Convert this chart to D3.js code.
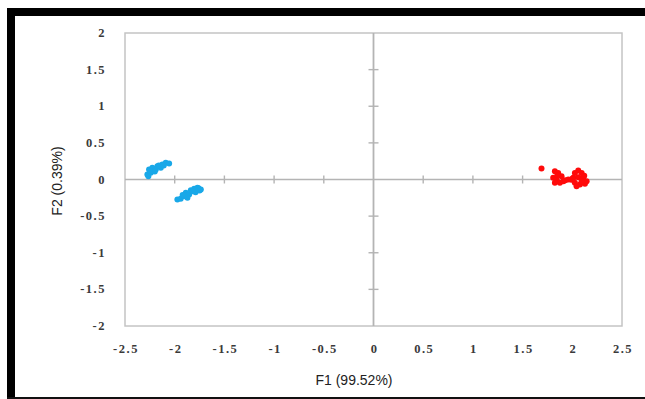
<!DOCTYPE html>
<html><head><meta charset="utf-8">
<script src="https://cdn.jsdelivr.net/npm/d3@7"></script>
<style>html,body{margin:0;padding:0;background:#fff;}svg{display:block;}</style>
</head><body>
<svg id="c" width="645" height="399"></svg>
<script>
const xTicks = [-2.5,-2,-1.5,-1,-0.5,0,0.5,1,1.5,2,2.5];
const yTicks = [-2,-1.5,-1,-0.5,0,0.5,1,1.5,2];
const blueF1 = [-2.275,-2.241,-2.258,-2.225,-2.19,-2.174,-2.14,-2.124,-2.09,-2.056,-2.265,-2.2,-2.16,-2.11,-2.25,
                -1.973,-1.94,-1.905,-1.888,-1.855,-1.838,-1.804,-1.771,-1.737,-1.79,-1.872,-1.82,-1.76,-1.92,-1.75];
const blueF2 = [0.068,0.091,0.137,0.16,0.137,0.18,0.16,0.205,0.228,0.218,0.045,0.11,0.19,0.19,0.115,
                -0.273,-0.264,-0.228,-0.182,-0.205,-0.146,-0.127,-0.113,-0.137,-0.173,-0.25,-0.16,-0.12,-0.21,-0.15];
const redF1 = [1.69,1.825,1.858,1.808,1.842,1.875,1.91,1.825,1.892,1.96,1.99,
               2.06,2.026,2.094,2.01,2.06,2.11,2.026,2.077,2.127,2.144,2.043,2.094,1.85,2.12,1.93,2.0];
const redF2 = [0.15,0.113,0.09,0.023,0,-0.045,-0.023,-0.045,0.045,0,-0.005,
               0.123,0.09,0.09,0.023,0.032,0.023,-0.045,-0.068,-0.059,-0.023,-0.091,-0.023,0.06,0.05,-0.01,0.01];

const svg = d3.select('#c');
const L=125, R=622, T=33, B=326;
const x = d3.scaleLinear().domain([-2.5,2.5]).range([L,R]);
const y = d3.scaleLinear().domain([-2,2]).range([B,T]);

// outer frame
svg.append('rect').attr('x',7).attr('y',8).attr('width',645).attr('height',8).attr('fill','#000');
svg.append('rect').attr('x',7).attr('y',8).attr('width',8).attr('height',391).attr('fill','#000');
svg.append('rect').attr('x',7).attr('y',397).attr('width',645).attr('height',2).attr('fill','#111');

// plot box
svg.append('rect').attr('x',L).attr('y',T).attr('width',R-L).attr('height',B-T)
  .attr('fill','none').attr('stroke','#c4c4c4').attr('stroke-width',1.5);

// zero axes with cross ticks
const ax = svg.append('g').attr('stroke','#b4b4b4');
ax.append('line').attr('x1',L).attr('x2',R).attr('y1',y(0)).attr('y2',y(0)).attr('stroke-width',1.6);
ax.append('line').attr('x1',x(0)).attr('x2',x(0)).attr('y1',T).attr('y2',B).attr('stroke-width',1.8);
xTicks.filter(v=>v>-2.5&&v<2.5&&v!==0).forEach(v=>{
  ax.append('line').attr('x1',x(v)).attr('x2',x(v)).attr('y1',y(0)-4).attr('y2',y(0)+4).attr('stroke-width',1.4);
});
yTicks.filter(v=>v>-2&&v<2&&v!==0).forEach(v=>{
  ax.append('line').attr('x1',x(0)-5).attr('x2',x(0)+5).attr('y1',y(v)).attr('y2',y(v)).attr('stroke-width',1.4);
});

// tick labels
const lab = {'font-family':'Liberation Serif, Times New Roman, serif','font-weight':'bold','font-size':'12.5px','fill':'#3a3a3a','letter-spacing':'1.5px'};
const fmt = v => String(v);
const xl = svg.append('g');
xTicks.forEach(v=>{
  const t = xl.append('text').attr('x',x(v)+1).attr('y',353).attr('text-anchor','middle').text(fmt(v));
  Object.entries(lab).forEach(([k,val])=>t.attr(k,val));
});
const yl = svg.append('g');
yTicks.forEach(v=>{
  const t = yl.append('text').attr('x',106).attr('y',y(v)+4).attr('text-anchor','end').text(fmt(v));
  Object.entries(lab).forEach(([k,val])=>t.attr(k,val));
});

// axis titles
svg.append('text').attr('x',354).attr('y',385).attr('text-anchor','middle')
  .attr('font-family','Liberation Sans, Arial, sans-serif').attr('font-size','14px').attr('fill','#222').text('F1 (99.52%)');
svg.append('text').attr('transform','translate(62,181) rotate(-90)').attr('text-anchor','middle')
  .attr('font-family','Liberation Sans, Arial, sans-serif').attr('font-size','14px').attr('fill','#222').text('F2 (0.39%)');

// points
const blue = blueF1.map((v,i)=>[v,blueF2[i]]);
const red = redF1.map((v,i)=>[v,redF2[i]]);
svg.append('g').selectAll('circle').data(blue).join('circle')
  .attr('cx',d=>x(d[0])).attr('cy',d=>y(d[1])).attr('r',3).attr('fill','#19a8e8');
svg.append('g').selectAll('circle').data(red).join('circle')
  .attr('cx',d=>x(d[0])).attr('cy',d=>y(d[1])).attr('r',3).attr('fill','#ff0a0a');
</script>
</body></html>
